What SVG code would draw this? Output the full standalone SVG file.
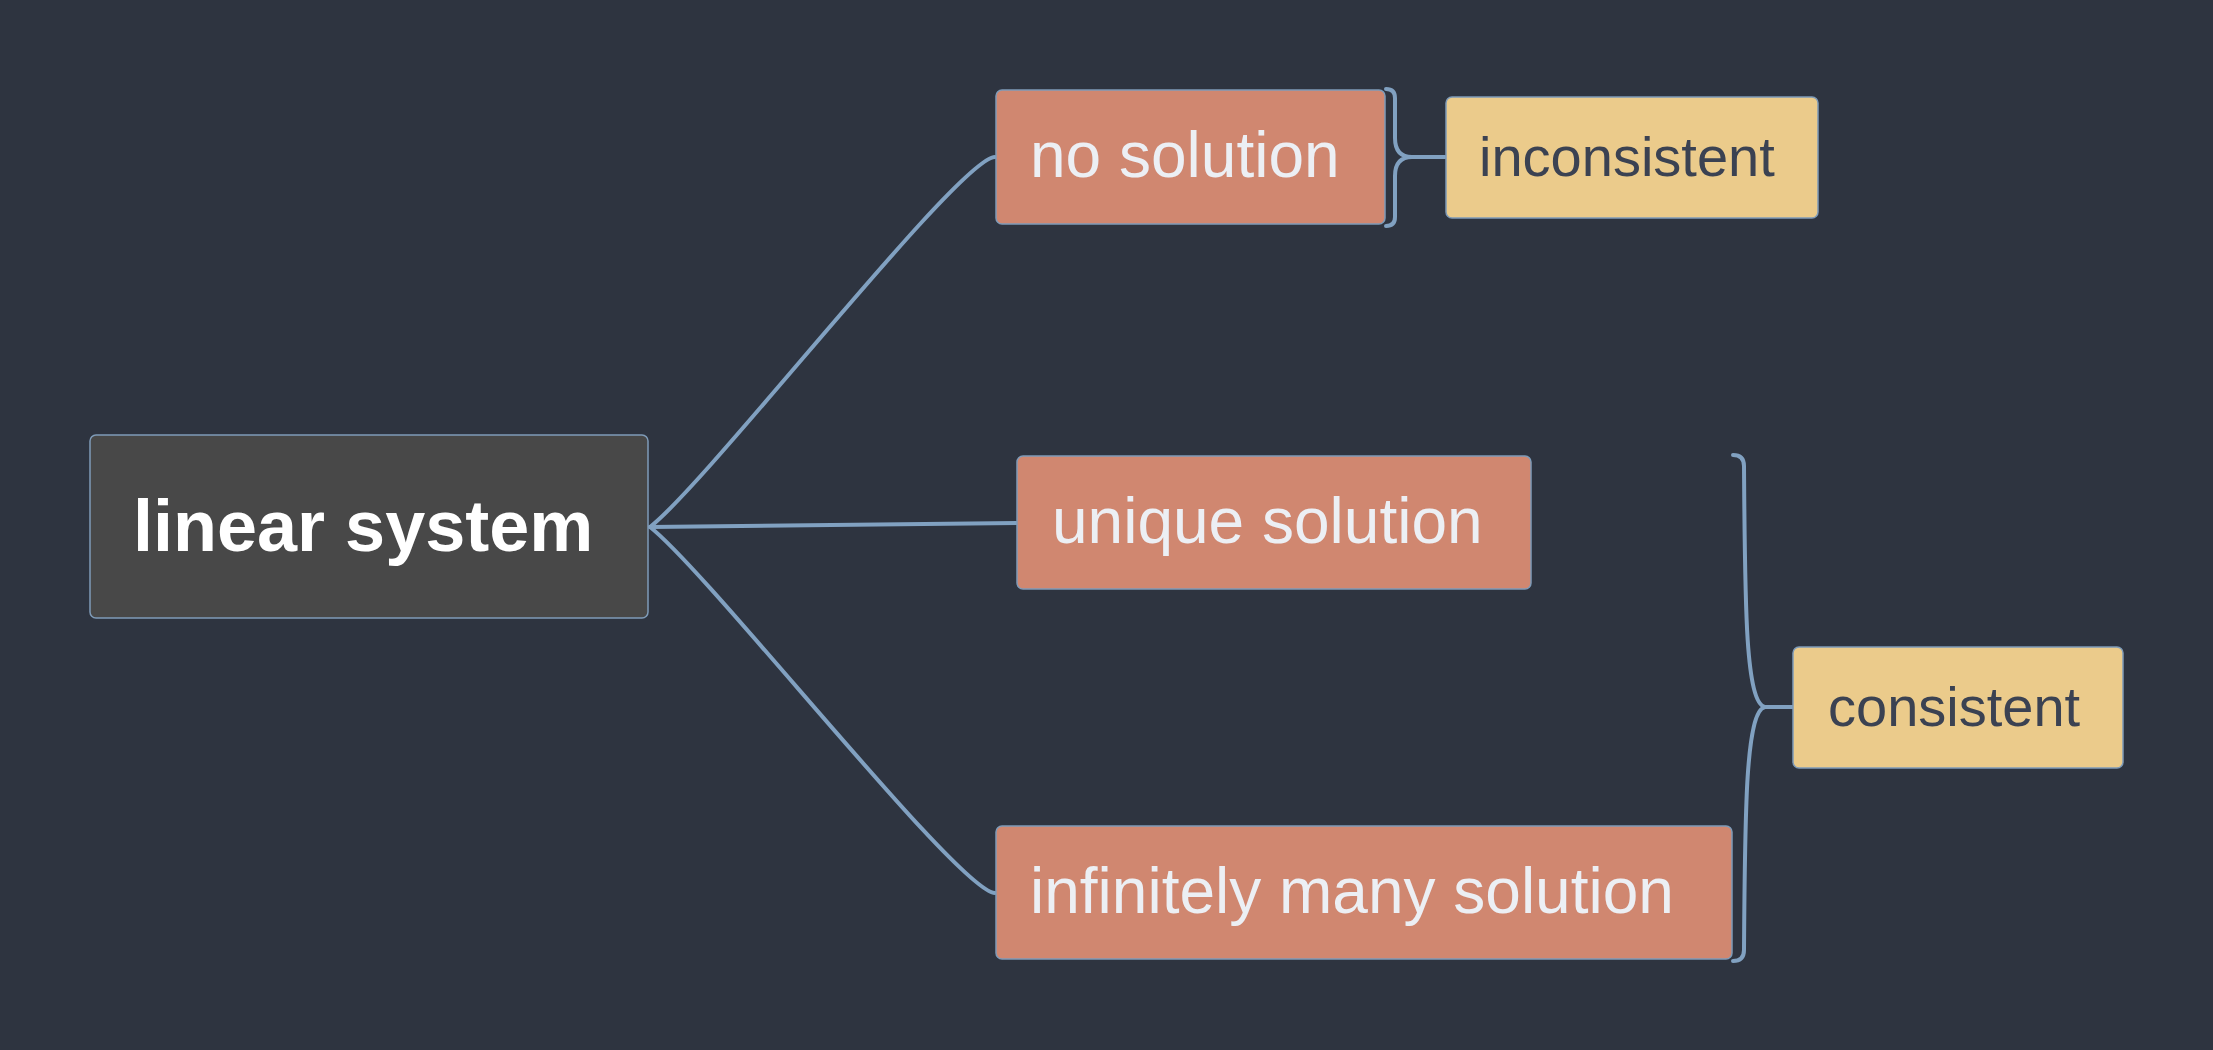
<svg xmlns="http://www.w3.org/2000/svg" width="2213" height="1050" viewBox="0 0 2213 1050">
<style>
.bg{fill:#2e3440}
.node{stroke:#7f9bb8;stroke-width:1.5}
.root{fill:#484848}
.sub{fill:#d08770}
.sum{fill:#ebcb8b}
.conn{fill:none;stroke:#81a1c1;stroke-width:4;stroke-linecap:round;stroke-linejoin:round}
text{font-family:"Liberation Sans",Arial,sans-serif}
.t-root{font-size:72px;font-weight:bold;fill:#ffffff}
.t-sub{font-size:64px;fill:#eceff4}
.t-sum{font-size:56px;fill:#3b4252}
</style>
<rect class="bg" x="0" y="0" width="2213" height="1050"/>
<g id="connectors">
<path class="conn" d="M650,527 C710,480 960,157 995,157"/>
<path class="conn" d="M650,527 L1017,523"/>
<path class="conn" d="M650,527 C710,574 960,893 995,893"/>
<path class="conn" d="M1386,89 Q1395,89 1395,98 L1395,138 Q1395,157 1412,157 L1445,157 M1386,226 Q1395,226 1395,217 L1395,176 Q1395,157 1412,157"/>
<path class="conn" d="M1733,455 Q1744,455 1744,466 C1745,600 1745,703 1765,707 L1793,707 M1733,961 Q1744,961 1744,950 C1745,820 1745,711 1765,707"/>
</g>
<g id="node-root">
<rect class="node root" x="90" y="435" width="558" height="183" rx="6"/>
<text class="t-root" x="133" y="551">linear system</text>
</g>
<g id="node-no-solution">
<rect class="node sub" x="996" y="90" width="389" height="134" rx="6"/>
<text class="t-sub" x="1030" y="177">no solution</text>
</g>
<g id="node-unique-solution">
<rect class="node sub" x="1017" y="456" width="514" height="133" rx="6"/>
<text class="t-sub" x="1052" y="543">unique solution</text>
</g>
<g id="node-infinitely-many">
<rect class="node sub" x="996" y="826" width="736" height="133" rx="6"/>
<text class="t-sub" x="1030" y="913">infinitely many solution</text>
</g>
<g id="node-inconsistent">
<rect class="node sum" x="1446" y="97" width="372" height="121" rx="6"/>
<text class="t-sum" x="1479" y="176">inconsistent</text>
</g>
<g id="node-consistent">
<rect class="node sum" x="1793" y="647" width="330" height="121" rx="6"/>
<text class="t-sum" x="1828" y="726">consistent</text>
</g>
</svg>
